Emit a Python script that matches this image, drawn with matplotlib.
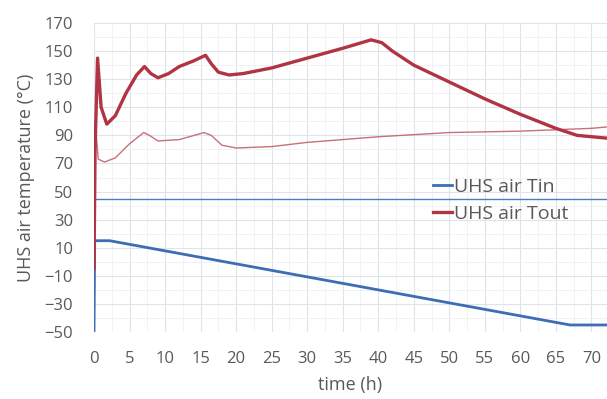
import matplotlib
matplotlib.use("Agg")
import matplotlib.pyplot as plt
import numpy as np

plt.rcParams['font.family'] = ['Open Sans', 'DejaVu Sans']

# time (h) and temperatures
t_out = [0, 0.15, 0.5, 1.0, 1.8, 3, 4.5, 6, 7.1, 8, 9, 10.5, 12, 14, 15.7, 16.5, 17.5, 19, 21, 25, 30, 35, 39, 40.5, 42, 45, 50, 55, 60, 65, 68, 72.2]
tout = [-5, 80, 145, 110, 98, 104, 120, 133, 139, 134, 131, 134, 139, 143, 147, 141, 135, 133, 134, 138, 145, 152, 158, 156, 150, 140, 128, 116, 105, 95, 90, 88]

t_out2 = [0, 0.15, 0.6, 1.5, 3, 5, 7, 7.8, 9, 12, 15.5, 16.5, 18, 20, 25, 30, 40, 50, 60, 70, 72.2]
tout2 = [-50, 100, 73, 71, 74, 84, 92, 90, 86, 87, 92, 90, 83, 81, 82, 85, 89, 92, 93, 95, 96]

t_in = [0, 0.1, 2.2, 67, 72.2]
tin = [-50, 15, 15, -45, -45]

t_in2 = [0, 72.2]
tin2 = [45, 45]

fig = plt.figure(figsize=(6.07, 3.99), dpi=100)
ax = fig.add_axes([94/607, 1-332/399, 1-94/607, (332-23)/399])

grey = '#595959'
ax.plot(t_in2, tin2, color='#4a7cc4', lw=1.0)
ax.plot(t_out2, tout2, color='#c8707a', lw=1.0)
ax.plot(t_in, tin, color='#3d6db5', lw=2.0, label='UHS air Tin')
ax.plot(t_out, tout, color='#b03444', lw=2.4, label='UHS air Tout')

ax.set_xlim(0, 72.2)
ax.set_ylim(-50, 170)
ax.set_xticks(np.arange(0, 71, 5))
ax.set_yticks(np.arange(-50, 171, 20))
ax.set_xticks(np.arange(0, 72.2, 2.5), minor=True)
ax.set_yticks(np.arange(-50, 171, 10), minor=True)
ax.grid(which='major', color='#dfe3ea', lw=0.8)
ax.grid(which='minor', color='#eef0f4', lw=0.6)
ax.set_axisbelow(True)
for s in ax.spines.values():
    s.set_visible(False)
ax.tick_params(which='both', length=0, colors=grey, labelsize=12)
ax.tick_params(axis='y', pad=15)
ax.tick_params(axis='x', pad=14)

ax.set_xlabel('time (h)', color=grey, fontsize=13, labelpad=6)
ax.set_ylabel('UHS air temperature (°C)', color=grey, fontsize=13, labelpad=7)

leg = ax.legend(loc='center left', bbox_to_anchor=((433-94)/513, 0.426), frameon=False,
                borderaxespad=0, borderpad=0,
                fontsize=14, handlelength=1.0, handletextpad=0.1, labelspacing=0.5)
for txt in leg.get_texts():
    txt.set_color(grey)

fig.savefig('out.png', dpi=100)
